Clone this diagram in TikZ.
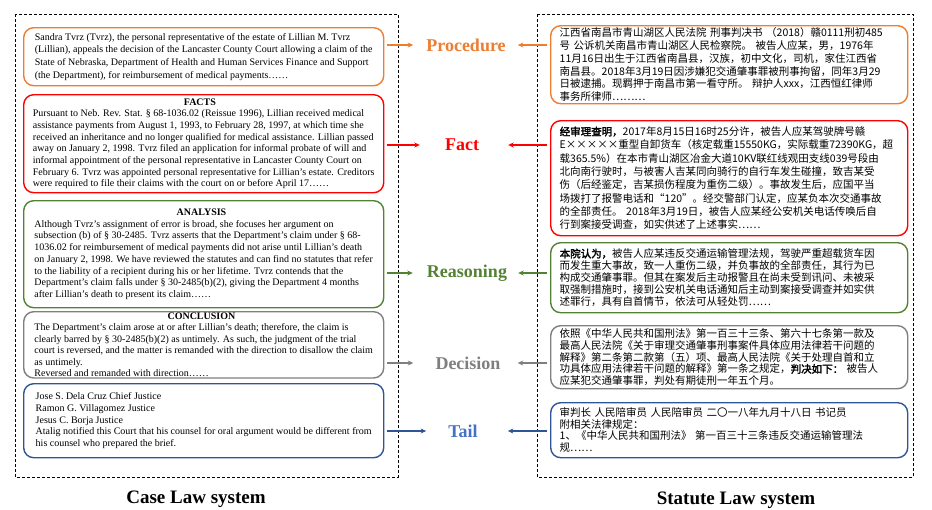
\documentclass[tikz,border=0pt]{standalone}
\usepackage{fontspec}
\setmainfont{Liberation Serif}
\newfontfamily\cjk[AutoFakeBold=2.5]{Noto Sans CJK SC}
\usetikzlibrary{arrows.meta}

\definecolor{cOrange}{HTML}{ED7D31}
\definecolor{cRed}{HTML}{FF0000}
\definecolor{cGreen}{HTML}{548235}
\definecolor{cGray}{HTML}{7F7F7F}
\definecolor{cBlue}{HTML}{2F5597}
\definecolor{cBlueText}{HTML}{4472C4}

\tikzset{
  frame/.style={draw=black, line width=1pt, dash pattern=on 3pt off 2pt},
  enbox/.style={draw, rounded corners=10pt, line width=1.4pt, anchor=north west,
    inner xsep=0pt, inner ysep=1pt, minimum width=360pt, minimum height=#1, align=left,
    font=\fontsize{10}{11.7}\selectfont},
  cnbox/.style={draw, rounded corners=10pt, line width=1.4pt, anchor=north west,
    inner xsep=9pt, inner ysep=1pt, text width=339pt, minimum height=#1, align=left,
    font=\cjk\fontsize{10.5}{12.8}\selectfont},
  category/.style={font=\fontsize{18}{20}\selectfont\bfseries, inner sep=0pt},
  sysname/.style={font=\fontsize{19}{22}\selectfont\bfseries, inner sep=0pt},
  arr/.style={line width=1.1pt, -{Stealth[length=5.5pt,width=5pt]}, shorten <=3pt},
}

\begin{document}
\begin{tikzpicture}[x=1pt, y=-1pt]
\useasboundingbox (0,0) rectangle (932,509);

% system frames
\draw[frame] (15,14) rectangle (398,477);
\draw[frame] (537,14) rectangle (913,477);

% ---------- case law side ----------
\node[enbox=58pt, draw=cOrange, font=\fontsize{10}{12.7}\selectfont] (lp) at (23,27) {%
Sandra Tvrz (Tvrz), the personal representative of the estate of Lillian M. Tvrz\\
(Lillian), appeals the decision of the Lancaster County Court allowing a claim of the\\
State of Nebraska, Department of Health and Human Services Finance and Support\\
(the Department), for reimbursement of medical payments……};

\node[enbox=98pt, draw=cRed] (lf) at (23,94) {%
\makebox[334pt]{\bfseries FACTS}\\
Pursuant to Neb. Rev. Stat. \S\ 68-1036.02 (Reissue 1996), Lillian received medical\\
assistance payments from August 1, 1993, to February 28, 1997, at which time she\\
received an inheritance and no longer qualified for medical assistance. Lillian passed\\
away on January 2, 1998. Tvrz filed an application for informal probate of will and\\
informal appointment of the personal representative in Lancaster County Court on\\
February 6. Tvrz was appointed personal representative for Lillian’s estate. Creditors\\
were required to file their claims with the court on or before April 17……};

\node[enbox=107pt, draw=cGreen] (la) at (23,200) {%
\makebox[334pt]{\bfseries ANALYSIS}\\
Although Tvrz’s assignment of error is broad, she focuses her argument on\\
subsection (b) of \S\ 30-2485. Tvrz asserts that the Department’s claim under \S\ 68-\\
1036.02 for reimbursement of medical payments did not arise until Lillian’s death\\
on January 2, 1998. We have reviewed the statutes and can find no statutes that refer\\
to the liability of a recipient during his or her lifetime. Tvrz contends that the\\
Department’s claim falls under \S\ 30-2485(b)(2), giving the Department 4 months\\
after Lillian’s death to present its claim……};

\node[enbox=62pt, draw=cGray, font=\fontsize{10}{11.5}\selectfont] (lc) at (23,311) {%
\makebox[334pt]{\bfseries CONCLUSION}\\
The Department’s claim arose at or after Lillian’s death; therefore, the claim is\\
clearly barred by \S\ 30-2485(b)(2) as untimely. As such, the judgment of the trial\\
court is reversed, and the matter is remanded with the direction to disallow the claim\\
as untimely.\\
Reversed and remanded with direction……};

\node[enbox=74pt, draw=cBlue] (lt) at (23,383) {%
Jose S. Dela Cruz Chief Justice\\
Ramon G. Villagomez Justice\\
Jesus C. Borja Justice\\
Atalig notified this Court that his counsel for oral argument would be different from\\
his counsel who prepared the brief.};

% ---------- statute law side ----------
\node[cnbox=78pt, draw=cOrange] (rp) at (550,25) {%
江西省南昌市青山湖区人民法院 刑事判决书 （2018）赣0111刑初485\\
号 公诉机关南昌市青山湖区人民检察院。 被告人应某，男，1976年\\
11月16日出生于江西省南昌县，汉族，初中文化，司机，家住江西省\\
南昌县。2018年3月19日因涉嫌犯交通肇事罪被刑事拘留，同年3月29\\
日被逮捕。现羁押于南昌市第一看守所。 辩护人xxx，江西恒红律师\\
事务所律师………};

\node[cnbox=115pt, draw=cRed, font=\cjk\fontsize{10.5}{13.3}\selectfont] (rf) at (550,120) {%
{\bfseries 经审理查明，}2017年8月15日16时25分许，被告人应某驾驶牌号赣\\
E×××××重型自卸货车（核定载重15550KG，实际载重72390KG，超\\
载365.5\%）在本市青山湖区冶金大道10KV联红线观田支线039号段由\\
北向南行驶时，与被害人吉某同向骑行的自行车发生碰撞，致吉某受\\
伤（后经鉴定，吉某损伤程度为重伤二级）。事故发生后，应国平当\\
场拨打了报警电话和“120”。经交警部门认定，应某负本次交通事故\\
的全部责任。 2018年3月19日，被告人应某经公安机关电话传唤后自\\
行到案接受调查，如实供述了上述事实……};

\node[cnbox=70pt, draw=cGreen, font=\cjk\fontsize{10.5}{12}\selectfont] (rr) at (550,242) {%
{\bfseries 本院认为，}被告人应某违反交通运输管理法规，驾驶严重超载货车因\\
而发生重大事故，致一人重伤二级，并负事故的全部责任，其行为已\\
构成交通肇事罪。但其在案发后主动报警且在尚未受到讯问、未被采\\
取强制措施时，接到公安机关电话通知后主动到案接受调查并如实供\\
述罪行，具有自首情节，依法可从轻处罚……};

\node[cnbox=63pt, draw=cGray, font=\cjk\fontsize{10.5}{11.8}\selectfont] (rd) at (550,325) {%
依照《中华人民共和国刑法》第一百三十三条、第六十七条第一款及\\
最高人民法院《关于审理交通肇事刑事案件具体应用法律若干问题的\\
解释》第二条第二款第（五）项、最高人民法院《关于处理自首和立\\
功具体应用法律若干问题的解释》第一条之规定，{\bfseries 判决如下：} 被告人\\
应某犯交通肇事罪，判处有期徒刑一年五个月。};

\node[cnbox=55pt, draw=cBlue, font=\cjk\fontsize{10.5}{11.5}\selectfont] (rt) at (550,402) {%
审判长 人民陪审员 人民陪审员 二〇一八年九月十八日 书记员\\
附相关法律规定：\\
1、《中华人民共和国刑法》 第一百三十三条违反交通运输管理法\\
规……};

% ---------- shared categories ----------
\node[category, text=cOrange]   (Lp) at (466,45)  {Procedure};
\node[category, text=cRed]      (Lf) at (462,145) {Fact};
\node[category, text=cGreen]    (Lr) at (467,273) {Reasoning};
\node[category, text=cGray]     (Ld) at (468,363) {Decision};
\node[category, text=cBlueText] (Lt) at (463,431) {Tail};

\draw[arr, cOrange, shorten >=13pt] (lp.east |- Lp) -- (Lp);
\draw[arr, cRed,    shorten >=25pt] (lf.east |- Lf) -- (Lf);
\draw[arr, cGreen,  shorten >=14pt] (la.east |- Lr) -- (Lr);
\draw[arr, cGray,   shorten >=22pt] (lc.east |- Ld) -- (Ld);
\draw[arr, cBlue,   shorten >=22pt] (lt.east |- Lt) -- (Lt);

\draw[arr, cOrange, shorten >=12pt] (rp.west |- Lp) -- (Lp);
\draw[arr, cRed,    shorten >=29pt] (rf.west |- Lf) -- (Lf);
\draw[arr, cGreen,  shorten >=11pt] (rr.west |- Lr) -- (Lr);
\draw[arr, cGray,   shorten >=17pt] (rd.west |- Ld) -- (Ld);
\draw[arr, cBlue,   shorten >=30pt] (rt.west |- Lt) -- (Lt);

% system names
\node[sysname] (cls) at (196,499) {Case Law system};
\node[sysname] (sls) at (736,500) {Statute Law system};
\end{tikzpicture}
\end{document}
